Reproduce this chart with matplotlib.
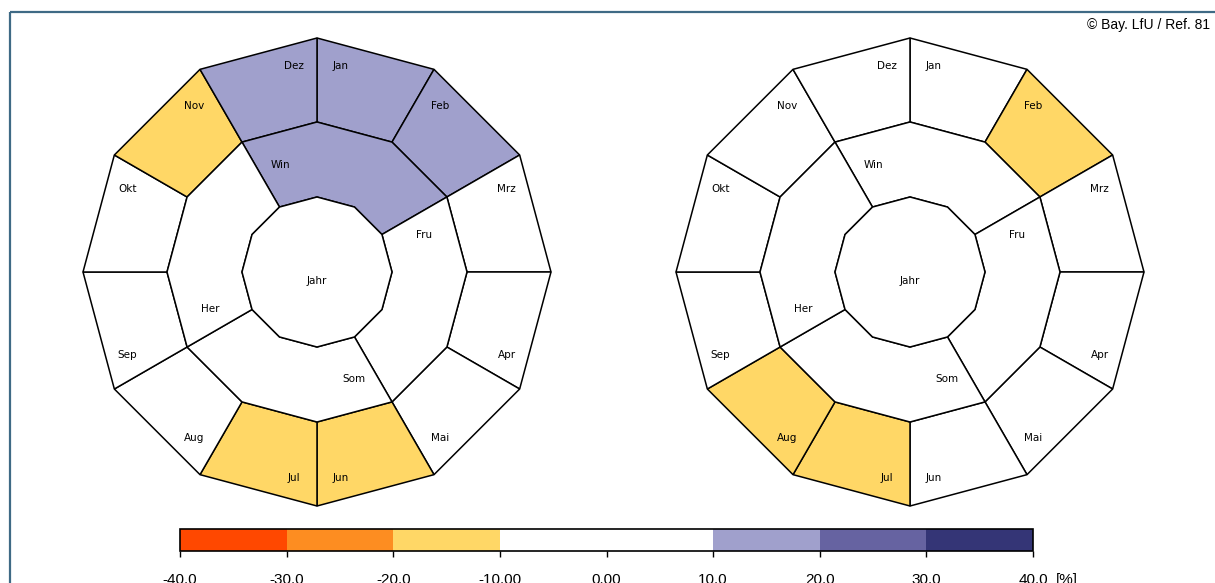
import numpy as np
import matplotlib
matplotlib.use("Agg")
import matplotlib.pyplot as plt
from matplotlib.colors import ListedColormap, BoundaryNorm
from matplotlib.patches import Polygon, Rectangle
import matplotlib.colorbar as mcolorbar

# Monate und Jahreszeiten
monate = ["Jan", "Feb", "Mrz", "Apr", "Mai", "Jun", "Jul", "Aug", "Sep", "Okt", "Nov", "Dez"]
jahreszeiten = ["Win", "Fru", "Som", "Her"]

# Abweichungen in % (links / rechts)
werte_links_monate = [14.2, 12.8, 3.1, -2.4, -6.5, -13.7, -11.9, -4.2, 2.6, 5.3, -12.4, 16.1]
werte_links_jz = [14.5, -1.8, -8.3, -2.1]
wert_links_jahr = 1.2

werte_rechts_monate = [4.1, -11.3, 6.2, 2.0, -3.5, -7.8, -12.0, -14.2, -5.1, 1.4, 3.3, 5.6]
werte_rechts_jz = [5.0, 1.6, -9.1, -0.4]
wert_rechts_jahr = -2.3

# Farbskala
grenzen = [-40, -30, -20, -10, 10, 20, 30, 40]
farben = ["#ff4800", "#fd8d21", "#ffd766", "#ffffff", "#a0a0cc", "#6663a1", "#343576"]
tick_werte = [-40, -30, -20, -10, 0, 10, 20, 30, 40]
tick_texte = ["-40.0", "-30.0", "-20.0", "-10.00", "0.00", "10.0", "20.0", "30.0", "40.0"]

cmap = ListedColormap(farben)
norm = BoundaryNorm(grenzen, cmap.N)

W, H = 1215, 583
fig = plt.figure(figsize=(W / 100, H / 100), dpi=100)
ax = fig.add_axes([0, 0, 1, 1])
ax.set_xlim(0, W)
ax.set_ylim(H, 0)
ax.axis("off")

R_AUSSEN, R_MITTE, R_INNEN = 234, 150, 75


def punkt(cx, cy, r, winkel):
    a = np.deg2rad(winkel)
    return cx + r * np.cos(a), cy - r * np.sin(a)


def rose(cx, cy, werte_m, werte_jz, wert_jahr):
    # Monatsring
    for i, name in enumerate(monate):
        a0 = 90 - 30 * i
        a1 = a0 - 30
        pts = [punkt(cx, cy, R_AUSSEN, a0), punkt(cx, cy, R_AUSSEN, a1),
               punkt(cx, cy, R_MITTE, a1), punkt(cx, cy, R_MITTE, a0)]
        ax.add_patch(Polygon(pts, closed=True, facecolor=cmap(norm(werte_m[i])),
                             edgecolor="black", linewidth=1.1))
        # Beschriftung an der Grenze, die naeher an der Senkrechten liegt
        if abs(np.cos(np.deg2rad(a0))) < abs(np.cos(np.deg2rad(a1))):
            wl = a0 - 6.5
        else:
            wl = a1 + 6.5
        tx, ty = punkt(cx, cy, 207, wl)
        ax.text(tx, ty, name, ha="center", va="center", fontsize=7.5)

    # Jahreszeitenring
    for j, name in enumerate(jahreszeiten):
        start = 120 - 90 * j
        winkel = [start - 30 * k for k in range(4)]
        pts = [punkt(cx, cy, R_MITTE, w) for w in winkel]
        pts += [punkt(cx, cy, R_INNEN, w) for w in winkel[::-1]]
        ax.add_patch(Polygon(pts, closed=True, facecolor=cmap(norm(werte_jz[j])),
                             edgecolor="black", linewidth=1.1))
        tx, ty = punkt(cx, cy, 113, start - 11)
        ax.text(tx, ty, name, ha="center", va="center", fontsize=7.5)

    # Jahr
    pts = [punkt(cx, cy, R_INNEN, 90 - 30 * k) for k in range(12)]
    ax.add_patch(Polygon(pts, closed=True, facecolor=cmap(norm(wert_jahr)),
                         edgecolor="black", linewidth=1.1))
    ax.text(cx, cy + 9, "Jahr", ha="center", va="center", fontsize=7.5)


rose(317, 272, werte_links_monate, werte_links_jz, wert_links_jahr)
rose(910, 272, werte_rechts_monate, werte_rechts_jz, wert_rechts_jahr)

# Rahmen
ax.add_patch(Rectangle((10, 12), 1300, 700, fill=False, edgecolor="#3f6a85",
                       linewidth=1.6, clip_on=False))
ax.text(1210, 25, "\u00a9 Bay. LfU / Ref. 81", ha="right", va="center",
        fontsize=10, family="Liberation Sans")

# Farblegende
cax = fig.add_axes([180 / W, (H - 551) / H, 853 / W, 22 / H])
cb = mcolorbar.ColorbarBase(cax, cmap=cmap, norm=norm, orientation="horizontal",
                            boundaries=grenzen, spacing="proportional")
cb.outline.set_linewidth(1.2)
cb.set_ticks(tick_werte)
cb.set_ticklabels(tick_texte)
cax.tick_params(axis="x", length=4, width=1, pad=12, labelsize=11)
for t in cax.get_xticklabels():
    t.set_family("Liberation Sans")
fig.text(1056 / W, (H - 580) / H, "[%]", ha="left", va="center", fontsize=11,
         family="Liberation Sans")

fig.savefig("out.png", dpi=100)
